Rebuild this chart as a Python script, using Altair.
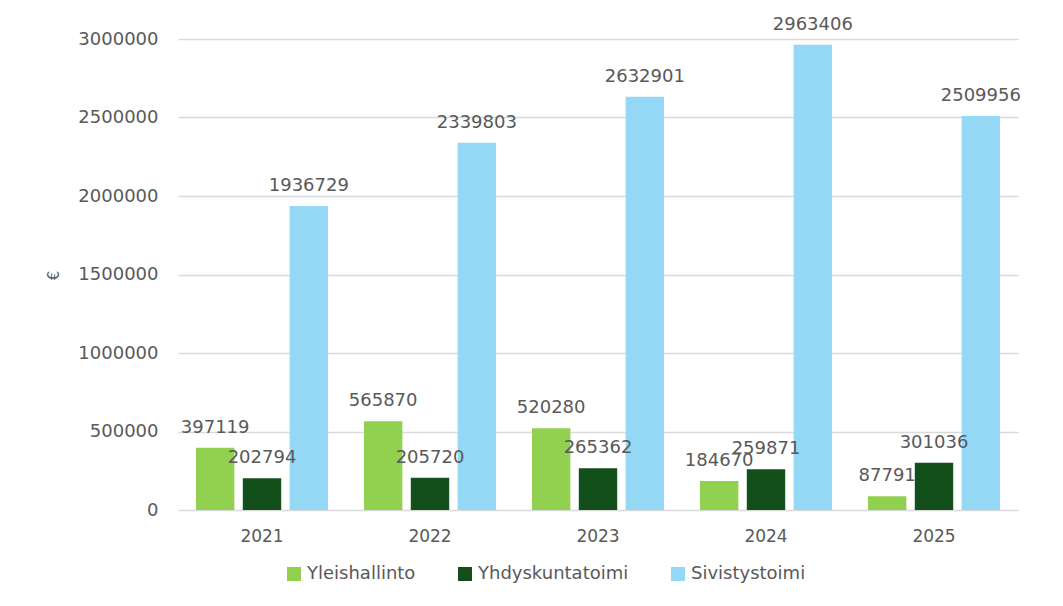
import altair as alt
import pandas as pd

years = ["2021", "2022", "2023", "2024", "2025"]
series = ["Yleishallinto", "Yhdyskuntatoimi", "Sivistystoimi"]
yleishallinto = [397119, 565870, 520280, 184670, 87791]
yhdyskuntatoimi = [202794, 205720, 265362, 259871, 301036]
sivistystoimi = [1936729, 2339803, 2632901, 2963406, 2509956]
colors = ["#92D050", "#124F1B", "#94D8F6"]
y_ticks = [0, 500000, 1000000, 1500000, 2000000, 2500000, 3000000]

rows = []
for name, vals in zip(series, [yleishallinto, yhdyskuntatoimi, sivistystoimi]):
    for yr, v in zip(years, vals):
        rows.append({"Vuosi": yr, "Sarja": name, "Arvo": v})
df = pd.DataFrame(rows)

FONT = "DejaVu Sans"
GRAY = "#595959"
FS = 18

x = alt.X("Vuosi:N", sort=years, title=None,
          scale=alt.Scale(paddingInner=0.214, paddingOuter=0.107),
          axis=alt.Axis(labelAngle=0, labelPadding=18, ticks=False, domain=False,
                        labelFontSize=17, labelColor=GRAY, labelFont=FONT))
xo = alt.XOffset("Sarja:N", sort=series, scale=alt.Scale(paddingInner=0.18))
y = alt.Y("Arvo:Q", title="€",
          scale=alt.Scale(domain=[0, 3000000], nice=False),
          axis=alt.Axis(values=y_ticks, format="d", ticks=False, domain=False,
                        labelFontSize=FS, labelColor=GRAY, labelFont=FONT, labelPadding=20,
                        gridColor="#D9D9D9", gridWidth=1.3,
                        titleFontSize=15, titleColor=GRAY, titleFont=FONT,
                        titleFontWeight="normal", titleX=-117, titleY=236, titleAngle=-90))
color = alt.Color("Sarja:N", sort=series,
                  scale=alt.Scale(domain=series, range=colors),
                  legend=alt.Legend(title=None, orient="none", direction="horizontal",
                                    legendX=107, legendY=526, symbolType="square",
                                    symbolSize=196, symbolStrokeWidth=0,
                                    labelFontSize=FS, labelColor=GRAY, labelFont=FONT,
                                    columnPadding=40, labelOffset=4))

bars = alt.Chart(df).mark_bar().encode(x=x, xOffset=xo, y=y, color=color)
labels = alt.Chart(df).mark_text(baseline="alphabetic", dy=-15, fontSize=FS, color=GRAY, font=FONT).encode(
    x=x, xOffset=xo, y=y, text=alt.Text("Arvo:Q", format="d"))

chart = (bars + labels).properties(
    width=840, height=471,
    autosize=alt.AutoSizeParams(type="none"),
    padding={"left": 178, "top": 39, "right": 45, "bottom": 96},
).configure(background="white").configure_view(stroke=None)

chart.save("out.html", embed_options={"renderer": "svg", "actions": False})
